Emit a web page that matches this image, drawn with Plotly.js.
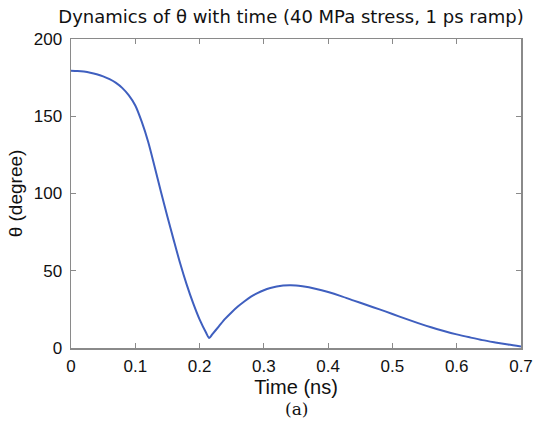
<!DOCTYPE html>
<html>
<head>
<meta charset="utf-8">
<script src="https://cdn.plot.ly/plotly-3.0.1.min.js"></script>
<style>html,body{margin:0;padding:0;background:#fff;}#chart{width:536px;height:429px;}</style>
</head>
<body>
<div id="chart"></div>
<script>
// Time (ns)
var timeNs = [0, 0.01, 0.02, 0.03, 0.04, 0.05, 0.06, 0.07, 0.08, 0.09, 0.10, 0.11, 0.12, 0.13, 0.14, 0.15, 0.16, 0.17, 0.18, 0.19, 0.20, 0.21, 0.215,
              0.22, 0.23, 0.24, 0.25, 0.26, 0.27, 0.28, 0.29, 0.30, 0.31, 0.32, 0.33, 0.34, 0.35, 0.36, 0.37, 0.38,
              0.40, 0.42, 0.44, 0.46, 0.48, 0.50, 0.52, 0.54, 0.56, 0.58, 0.60, 0.62, 0.64, 0.66, 0.68, 0.70];
// theta (degree)
var thetaDeg = [179.5, 179.3, 178.9, 178.2, 177.2, 175.8, 174.0, 171.6, 168.2, 163.5, 157.0, 146.5, 133.5, 117.5, 101.0, 85.0, 69.5, 54.5, 41.0, 29.0, 18.5, 10.0, 6.5,
                9.0, 14.0, 19.0, 23.2, 27.0, 30.3, 33.2, 35.5, 37.4, 38.8, 39.8, 40.4, 40.6, 40.5, 40.0, 39.3, 38.4,
                36.2, 33.6, 30.7, 27.8, 25.0, 22.0, 19.0, 16.1, 13.4, 11.0, 8.8, 6.9, 5.1, 3.6, 2.2, 1.0];
var xTicks = [0, 0.1, 0.2, 0.3, 0.4, 0.5, 0.6, 0.7];
var xTickText = ['0', '0.1', '0.2', '0.3', '0.4', '0.5', '0.6', '0.7'];
var yTicks = [0, 50, 100, 150, 200];
var titleText = 'Dynamics of \u03b8 with time (40 MPa stress, 1 ps ramp)';
var xTitle = 'Time (ns)';
var yTitle = '\u03b8 (degree)';
var caption = '(a)';

var axisCommon = {
  showgrid: false, zeroline: false, showline: true, linecolor: '#8a8a8a', linewidth: 1.5,
  mirror: 'ticks', ticks: 'inside', ticklen: 5, tickwidth: 1, tickcolor: '#8a8a8a',
  tickfont: {family: 'Liberation Sans, Arial, sans-serif', size: 17, color: '#111'}
};

var trace = {
  x: timeNs, y: thetaDeg, type: 'scatter', mode: 'lines',
  line: {color: '#3f5fbf', width: 2, shape: 'spline', smoothing: 0.8},
  hoverinfo: 'skip'
};

var layout = {
  width: 536, height: 429,
  margin: {l: 71, r: 15, t: 39, b: 80.5},
  paper_bgcolor: '#fff', plot_bgcolor: '#fff',
  showlegend: false,
  title: {text: titleText, font: {family: 'DejaVu Sans, Verdana, sans-serif', size: 18, color: '#111'},
          xref: 'container', x: 0.543, xanchor: 'center', yref: 'container', y: 1 - 17/429, yanchor: 'middle'},
  xaxis: Object.assign({}, axisCommon, {
    range: [0, 0.7], tickvals: xTicks, ticktext: xTickText, ticklabelstandoff: 2,
    title: {text: xTitle, font: {family: 'Liberation Sans, Arial, sans-serif', size: 20, color: '#111'}, standoff: 0}
  }),
  yaxis: Object.assign({}, axisCommon, {
    range: [0, 200], tickvals: yTicks, ticklabelstandoff: 4,
    title: {text: yTitle, font: {family: 'Liberation Sans, Arial, sans-serif', size: 19, color: '#111'}, standoff: 6}
  }),
  annotations: [{
    text: caption, xref: 'paper', yref: 'paper', x: 0.5, y: -(410 - 348.5) / 309.5,
    xanchor: 'center', yanchor: 'middle', showarrow: false,
    font: {family: 'DejaVu Serif, Liberation Serif, serif', size: 17, color: '#111'}
  }]
};

Plotly.newPlot('chart', [trace], layout, {staticPlot: true, displayModeBar: false});
</script>
</body>
</html>
